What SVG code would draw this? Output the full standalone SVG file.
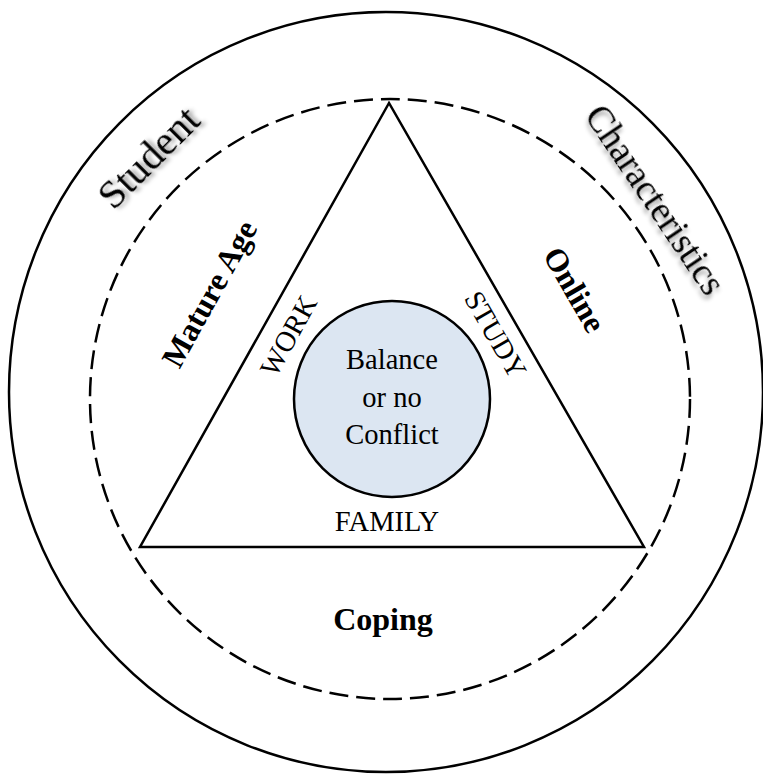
<svg xmlns="http://www.w3.org/2000/svg" width="763" height="774" viewBox="0 0 763 774">
  <defs>
    <filter id="soft-shadow" x="-20%" y="-20%" width="140%" height="140%">
      <feDropShadow dx="3" dy="3" stdDeviation="2" flood-color="#000" flood-opacity="0.4"/>
    </filter>
  </defs>
  <style>
    text { font-family: "Liberation Serif", "Times New Roman", serif; fill: #000; }
    .outer { fill: none; stroke: #000; stroke-width: 2.5; }
    .dashed { fill: none; stroke: #000; stroke-width: 2.5; stroke-dasharray: 19 8; }
    .tri { fill: none; stroke: #000; stroke-width: 2.5; stroke-linejoin: miter; }
    .core { fill: #DCE6F2; stroke: #000; stroke-width: 2.5; }
    .ring-label { font-size: 37px; filter: url(#soft-shadow); }
    .bold-label { font-size: 32px; font-weight: bold; }
    .side-label { font-size: 28.5px; }
    .core-label { font-size: 28.5px; text-anchor: middle; }
  </style>

  <!-- outer ring: student characteristics -->
  <g id="outer-ring">
    <ellipse class="outer" cx="386" cy="392" rx="377" ry="380"/>
    <text class="ring-label" text-anchor="middle" style="font-size:41px" transform="translate(148,157) rotate(-45)" y="14">Student</text>
    <text class="ring-label" text-anchor="middle" transform="translate(655,200) rotate(56)" y="12">Characteristics</text>
  </g>

  <!-- dashed ring: coping / mature age / online -->
  <g id="coping-ring">
    <circle class="dashed" cx="390" cy="399" r="300"/>
    <text class="bold-label" text-anchor="middle" transform="translate(210,294) rotate(-61)" y="10">Mature Age</text>
    <text class="bold-label" text-anchor="middle" transform="translate(574,290) rotate(60)" y="10">Online</text>
    <text class="bold-label" text-anchor="middle" x="383" y="630">Coping</text>
  </g>

  <!-- triangle: work / study / family -->
  <g id="triangle">
    <polygon class="tri" points="389,103 140,547 644,547"/>
    <text class="side-label" text-anchor="middle" transform="translate(289,336) rotate(-61)" y="9">WORK</text>
    <text class="side-label" text-anchor="middle" transform="translate(495,335) rotate(60)" y="9">STUDY</text>
    <text class="side-label" text-anchor="middle" x="387" y="531">FAMILY</text>
  </g>

  <!-- centre: balance -->
  <g id="balance">
    <circle class="core" cx="392" cy="399" r="98"/>
    <text class="core-label" x="392" y="369">Balance</text>
    <text class="core-label" x="392" y="407">or no</text>
    <text class="core-label" x="392" y="444">Conflict</text>
  </g>
</svg>
